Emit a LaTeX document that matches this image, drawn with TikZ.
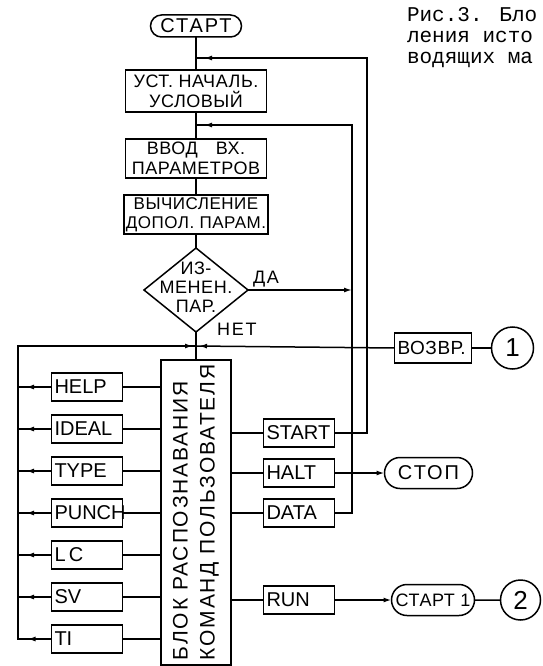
\documentclass[tikz,border=0pt]{standalone}
\usepackage{fontspec}
\setmainfont{Liberation Sans}
\newfontfamily\handfont[LetterSpace=3.0]{Liberation Sans}
\newfontfamily\cmdfont{Liberation Sans}
\newfontfamily\termfont[LetterSpace=10.0]{Liberation Sans}
\newfontfamily\wideletters[LetterSpace=9.0]{Liberation Sans}
\newfontfamily\typefont{Liberation Mono}
\usetikzlibrary{shapes, arrows, arrows.meta, positioning, calc, decorations.markings}

\begin{document}
\begin{tikzpicture}[x=1pt, y=-1pt,
			node distance=14pt,
			every node/.style={outer sep=0pt, font=\handfont\fontsize{18}{20}\selectfont},
			line/.style={draw=black, line width=1.5pt},
			flow/.style={line, postaction={decorate}, decoration={markings, mark=at position #1 with {\arrow{Latex[length=8pt, width=5pt]}}}},
			flow/.default=-8pt,
			term/.style={rounded rectangle, draw, line width=1.5pt, minimum height=22pt, inner sep=2pt, font=\termfont\fontsize{20}{22}\selectfont},
			proc/.style={rectangle, draw, line width=1.5pt, minimum width=141pt, align=center, inner sep=2pt},
			decision/.style={diamond, draw, line width=1.5pt, minimum width=104pt, minimum height=84pt, inner sep=0pt},
			cmd/.style={rectangle, draw, line width=1.5pt, minimum height=28pt, text width=65pt, align=left, inner sep=3pt, font=\cmdfont\fontsize{20}{22}\selectfont},
			conn/.style={circle, draw, line width=1.5pt, inner sep=0pt, font=\handfont\fontsize{26}{26}\selectfont},
			lbl/.style={inner sep=1pt, font=\termfont\fontsize{18}{20}\selectfont},
			>={Latex[length=8pt, width=5pt]}
			]
			\useasboundingbox (0,0) rectangle (542,666);
			\clip (0,0) rectangle (542,666);
			
			% Main flow - vertical
			\node[term, minimum width=95pt] (start) at (196,26) {СТАРТ};
			\node[proc, minimum height=42pt, below=33pt of start] (init) {УСТ. НАЧАЛЬ.\\УСЛОВЫЙ};
			\node[proc, minimum height=39pt, below=27pt of init] (input) {ВВОД\quad ВХ.\\ПАРАМЕТРОВ};
			\node[proc, minimum height=39pt, below=17pt of input, font=\handfont\fontsize{17}{19}\selectfont] (extra) {ВЫЧИСЛЕНИЕ\\ДОПОЛ. ПАРАМ.};
			\node[decision, below=14pt of extra, label={[align=center, yshift=3pt, font=\handfont\fontsize{18}{19}\selectfont]center:{ИЗ-\\МЕНЕН.\\ПАР.}}] (changed) {};
			\coordinate[below=14pt of changed] (j3);
			\node[draw, line width=1.5pt, minimum width=70pt, minimum height=305pt, below=14pt of j3,
				label={[rotate=90, align=left, font=\wideletters\fontsize{21}{27}\selectfont]center:{БЛОК РАСПОЗНАВАНИЯ\\КОМАНД ПОЛЬЗОВАТЕЛЯ}}] (block) {};
			
			% Junctions on the main line
			\coordinate[above=12pt of init] (j1);
			\coordinate[above=14pt of input] (j2);
			\coordinate (bus) at (18,346);
			\coordinate (outer) at (367,0);
			\coordinate (inner) at (352,0);
			
			% Commands left of the block
			\node[cmd] (help) at (87,387) {HELP};
			\node[cmd, below=of help] (ideal) {IDEAL};
			\node[cmd, below=of ideal] (type) {TYPE};
			\node[cmd, below=of type] (punch) {PUNCH};
			\node[cmd, below=of punch] (lc) {L\,C};
			\node[cmd, below=of lc] (sv) {SV};
			\node[cmd, below=of sv] (ti) {TI};
			
			% Commands right of the block
			\node[cmd] (startcmd) at (299,433) {START};
			\node[cmd, below=12pt of startcmd] (halt) {HALT};
			\node[cmd, below=12pt of halt] (data) {DATA};
			\node[cmd, below=59pt of data] (run) {RUN};
			
			% Exits
			\node[term, minimum width=92pt, minimum height=31pt, right=50pt of halt] (stop) {СТОП};
			\node[term, minimum width=87pt, minimum height=31pt, right=57pt of run, font=\handfont\fontsize{18}{20}\selectfont] (start1) {СТАРТ 1};
			\node[conn, minimum size=40pt, right=26pt of start1] (c2) {2};
			\node[cmd, minimum height=30pt, text width=71pt, inner sep=3pt, font=\handfont\fontsize{19}{20}\selectfont] (ret) at (433,348) {ВОЗВР.};
			\node[conn, minimum size=42pt, right=20pt of ret] (c1) {1};
			
			% Caption
			\node[font=\typefont\fontsize{21}{21}\selectfont, anchor=north west, align=left, inner sep=0pt] (caption) at (407,7) {Рис.3. Бло\\ления исто\\водящих ма};
			
			% Main arrows
			\draw[line] (start) -- (init);
			\draw[line] (init) -- (input);
			\draw[line] (input) -- (extra);
			\draw[line] (extra) -- (changed);
			\draw[line] (changed) -- (block);
			
			% Decision labels
			\draw[line, ->] (changed.east) -- (changed.east -| inner);
			\node[lbl, anchor=south west] (yes) at ([xshift=4pt, yshift=2pt]changed.east) {ДА};
			\node[lbl, anchor=west] (no) at ([xshift=20pt, yshift=3pt]changed.south) {НЕТ};
			
			% Feedback loops
			\draw[flow] (startcmd.east) -| (outer |- j1) -- (j1);
			\draw[flow] (data.east) -| (inner |- j2) -- (j2);
			\draw[flow=-3pt] (ret.west) -- (j3);
			
			% Left bus
			\draw[flow] (help.west) -- (help.west -| bus);
			\draw[flow] (ideal.west) -- (ideal.west -| bus);
			\draw[flow] (type.west) -- (type.west -| bus);
			\draw[flow] (punch.west) -- (punch.west -| bus);
			\draw[flow] (lc.west) -- (lc.west -| bus);
			\draw[flow] (sv.west) -- (sv.west -| bus);
			\draw[line, postaction={decorate}, decoration={markings, mark=at position 24pt with {\arrow{Latex[length=8pt, width=5pt]}}, mark=at position -3pt with {\arrow{Latex[length=8pt, width=5pt]}}}]
				(ti.west) -- (ti.west -| bus) -- (bus) -- (j3);
			
			% Block to commands
			\draw[line] (help) -- (help -| block.west);
			\draw[line] (ideal) -- (ideal -| block.west);
			\draw[line] (type) -- (type -| block.west);
			\draw[line] (punch) -- (punch -| block.west);
			\draw[line] (lc) -- (lc -| block.west);
			\draw[line] (sv) -- (sv -| block.west);
			\draw[line] (ti) -- (ti -| block.west);
			\draw[line] (block.east |- startcmd) -- (startcmd);
			\draw[line] (block.east |- halt) -- (halt);
			\draw[line] (block.east |- data) -- (data);
			\draw[line] (block.east |- run) -- (run);
			
			% Exit connections
			\draw[line, ->] (halt) -- (stop);
			\draw[line, ->] (run) -- (start1);
			\draw[line] (start1) -- (c2);
			\draw[line] (ret) -- (c1);
			
		\end{tikzpicture}
\end{document}
